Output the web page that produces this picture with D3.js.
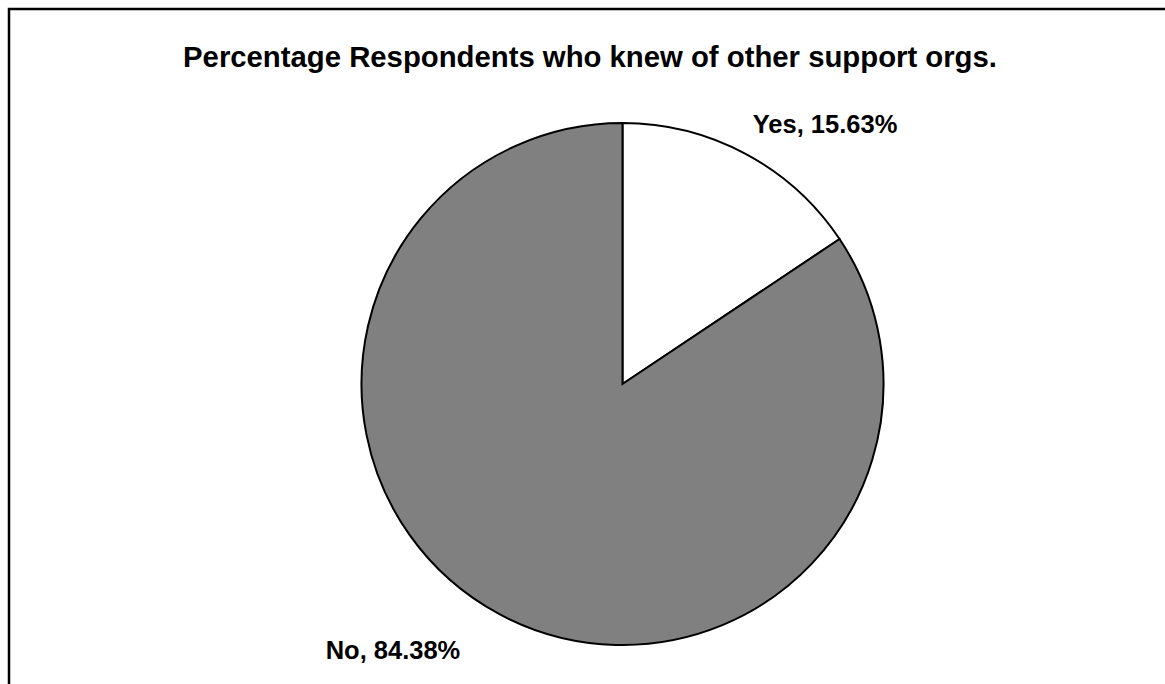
<!DOCTYPE html>
<html>
<head>
<meta charset="utf-8">
<script src="https://cdn.jsdelivr.net/npm/d3@7"></script>
<style>
  html, body { margin: 0; padding: 0; background: #fff; }
  svg { display: block; }
  text { font-family: "Liberation Sans", Arial, sans-serif; font-weight: bold; fill: #000; }
</style>
</head>
<body>
<svg id="chart" width="1165" height="684"></svg>
<script>
// Survey answers and their shares (percent)
const categories = ["Yes", "No"];
const values = [15.63, 84.38];
const sliceColors = ["#ffffff", "#808080"];
const chartTitle = "Percentage Respondents who knew of other support orgs.";

const width = 1165, height = 684;
const cx = 622.5, cy = 384, radius = 261;

const svg = d3.select("#chart");

// Chart frame (runs past the right and bottom edges)
svg.append("rect")
  .attr("x", 9).attr("y", 9)
  .attr("width", width + 20).attr("height", height + 20)
  .attr("fill", "#fff")
  .attr("stroke", "#000")
  .attr("stroke-width", 2.5);

svg.append("text")
  .attr("x", 590).attr("y", 67)
  .attr("text-anchor", "middle")
  .style("font-size", "29.3px")
  .text(chartTitle);

const data = categories.map((c, i) => ({ label: c, value: values[i], color: sliceColors[i] }));

const pie = d3.pie().sort(null).value(d => d.value).startAngle(0).endAngle(2 * Math.PI);
const arcs = pie(data);

const arc = d3.arc().innerRadius(0).outerRadius(radius);
const labelArc = d3.arc().innerRadius(radius + 30).outerRadius(radius + 30);

const g = svg.append("g").attr("transform", `translate(${cx},${cy})`);

g.selectAll("path.slice")
  .data(arcs)
  .join("path")
  .attr("class", "slice")
  .attr("d", arc)
  .attr("fill", d => d.data.color)
  .attr("stroke", "#000")
  .attr("stroke-width", 2)
  .attr("stroke-linejoin", "miter");

// Data labels outside the pie
const fmt = d3.format(".2f");
const labelOffsets = [[-7, 6], [-25, 18]];
g.selectAll("text.lbl")
  .data(arcs)
  .join("text")
  .attr("class", "lbl")
  .attr("x", (d, i) => labelArc.centroid(d)[0] + labelOffsets[i][0])
  .attr("y", (d, i) => labelArc.centroid(d)[1] + labelOffsets[i][1])
  .attr("text-anchor", d => ((d.startAngle + d.endAngle) / 2 < Math.PI ? "start" : "end"))
  .style("font-size", "25.5px")
  .text(d => `${d.data.label}, ${fmt(d.data.value)}%`);
</script>
</body>
</html>
